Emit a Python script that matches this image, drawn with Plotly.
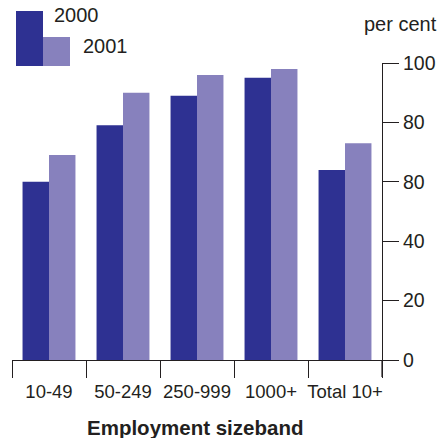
import plotly.graph_objects as go

# Share of businesses by employment sizeband, two survey years
categories = ["10-49", "50-249", "250-999", "1000+", "Total 10+"]
values_2000 = [60, 79, 89, 95, 64]
values_2001 = [69, 90, 96, 98, 73]
series_names = ["2000", "2001"]
y_tick_values = [0, 20, 40, 60, 80, 100]
y_tick_labels = ["0", "20", "40", "80", "80", "100"]

DARK = "#2e3192"
LIGHT = "#8781bd"
INK = "#231f20"
FONT = "Liberation Sans, Arial, sans-serif"

W, H = 440, 438
L, R, T, B = 12, 58, 63, 78
PW, PH = W - L - R, H - T - B


def px_x(x):
    return (x - L) / PW


def px_y(y):
    return (H - B - y) / PH


fig = go.Figure()
fig.add_trace(go.Bar(x=categories, y=values_2000, name=series_names[0],
                     marker=dict(color=DARK, line=dict(width=0))))
fig.add_trace(go.Bar(x=categories, y=values_2001, name=series_names[1],
                     marker=dict(color=LIGHT, line=dict(width=0))))

shapes = [
    # y-axis line continues down past the baseline to the tick length
    dict(type="line", xref="paper", yref="paper", x0=1, x1=1,
         y0=0, y1=px_y(H - B + 17), line=dict(color=INK, width=1.2)),
    # legend swatches
    dict(type="rect", xref="paper", yref="paper", x0=px_x(16), x1=px_x(43),
         y0=px_y(66), y1=px_y(11), fillcolor=DARK, line=dict(width=0)),
    dict(type="rect", xref="paper", yref="paper", x0=px_x(43), x1=px_x(70),
         y0=px_y(66), y1=px_y(37), fillcolor=LIGHT, line=dict(width=0)),
]

annotations = [
    dict(text=series_names[0], xref="paper", yref="paper", x=px_x(52), y=px_y(15),
         xanchor="left", yanchor="middle", showarrow=False,
         font=dict(family=FONT, size=20, color=INK)),
    dict(text=series_names[1], xref="paper", yref="paper", x=px_x(81), y=px_y(46),
         xanchor="left", yanchor="middle", showarrow=False,
         font=dict(family=FONT, size=20, color=INK)),
    dict(text="per cent", xref="paper", yref="paper", x=px_x(439), y=px_y(24),
         xanchor="right", yanchor="middle", showarrow=False,
         font=dict(family=FONT, size=20, color=INK)),
    # axis title placed beneath the category labels
    dict(text="<b>Employment sizeband</b>", xref="paper", yref="paper",
         x=px_x(195), y=px_y(427), xanchor="center", yanchor="middle",
         showarrow=False, font=dict(family=FONT, size=20.5, color=INK)),
]

fig.update_layout(
    width=W, height=H,
    margin=dict(l=L, r=R, t=T, b=B, pad=0),
    paper_bgcolor="white", plot_bgcolor="white",
    barmode="group", bargap=0.285, bargroupgap=0,
    showlegend=False,
    shapes=shapes, annotations=annotations,
    font=dict(family=FONT, size=18, color=INK),
)

fig.update_xaxes(
    automargin=False, tickangle=0,
    showline=True, linecolor=INK, linewidth=1.2,
    ticks="outside", tickson="boundaries", ticklen=17, tickcolor=INK, tickwidth=1.2,
    ticklabelstandoff=15,
    showgrid=False, zeroline=False,
    tickfont=dict(family=FONT, size=18.5, color=INK),
)

fig.update_yaxes(
    automargin=False,
    side="right", range=[0, 100],
    tickmode="array", tickvals=y_tick_values, ticktext=y_tick_labels,
    showline=True, linecolor=INK, linewidth=1.2,
    ticks="outside", ticklen=16, tickcolor=INK, tickwidth=1.2,
    showgrid=False, zeroline=False,
    tickfont=dict(family=FONT, size=19.5, color=INK),
)

fig.write_html("out.html")
